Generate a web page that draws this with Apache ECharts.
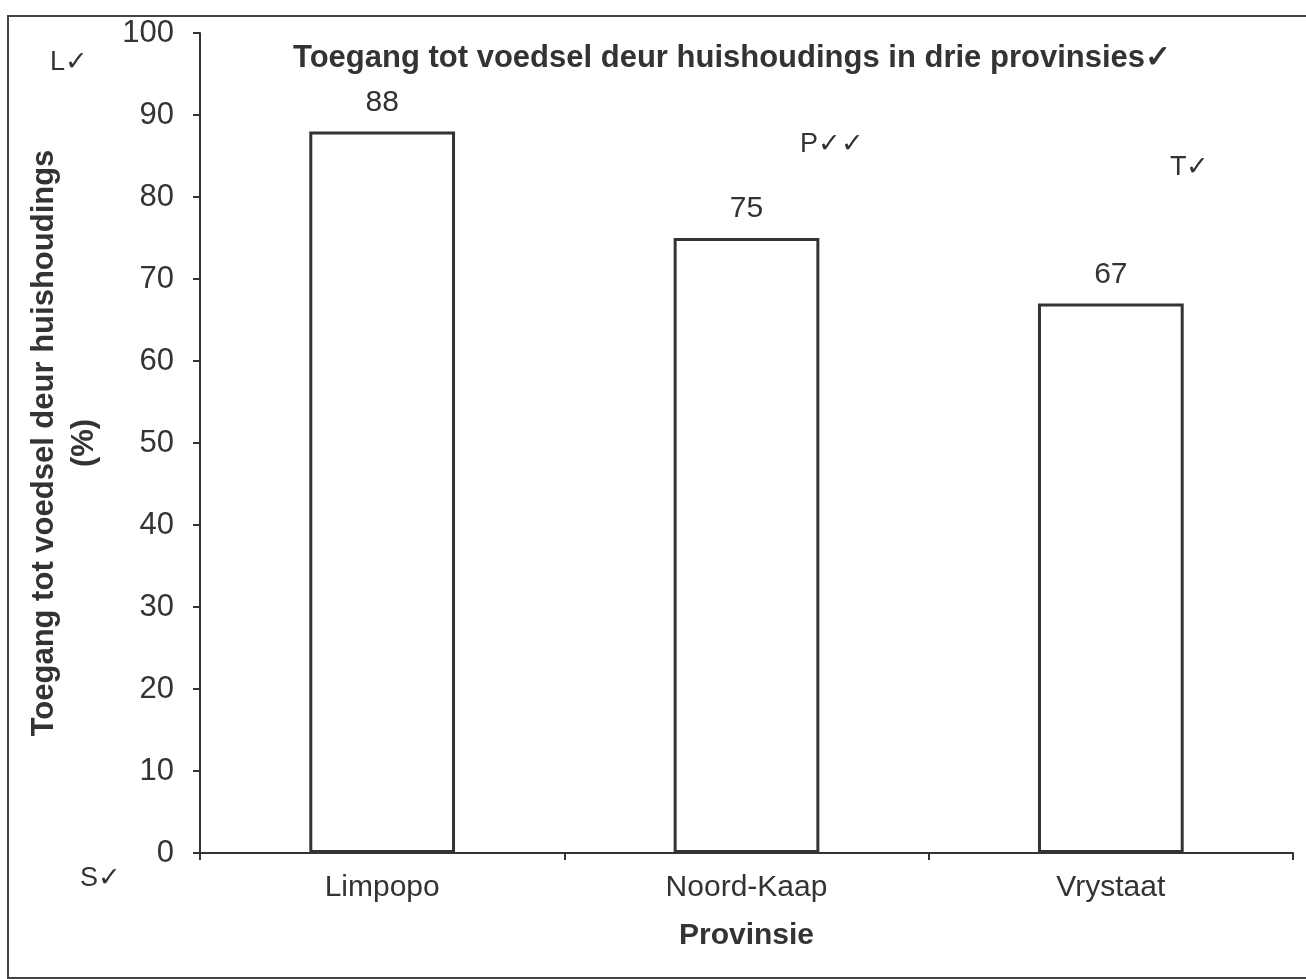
<!DOCTYPE html>
<html>
<head>
<meta charset="utf-8">
<script src="https://cdn.jsdelivr.net/npm/echarts@6/dist/echarts.min.js"></script>
<style>
  html, body { margin: 0; padding: 0; background: #fff; }
  #main { width: 1306px; height: 979px; }
</style>
</head>
<body>
<div id="main"></div>
<script>
// data
var provinces = ["Limpopo", "Noord-Kaap", "Vrystaat"];
var access = [88, 75, 67];
var yTicks = [0, 10, 20, 30, 40, 50, 60, 70, 80, 90, 100];

var chart = echarts.init(document.getElementById('main'));
var ink = "#333";
var font = "'Liberation Sans', Arial, sans-serif";

var option = {
  backgroundColor: "#fff",
  animation: false,
  title: {
    text: "Toegang tot voedsel deur huishoudings in drie provinsies\u2713",
    left: 288,
    top: 38,
    textStyle: { fontFamily: font, fontSize: 31, fontWeight: "bold", color: ink }
  },
  grid: { left: 200, right: 13, top: 33, bottom: 126 },
  xAxis: {
    type: "category",
    data: provinces,
    name: "Provinsie",
    nameLocation: "middle",
    nameGap: 68,
    nameTextStyle: { fontFamily: font, fontSize: 30, fontWeight: "bold", color: ink },
    axisLine: { lineStyle: { color: ink, width: 2 } },
    axisTick: { show: true, length: 7, lineStyle: { color: ink, width: 2 } },
    axisLabel: { fontFamily: font, fontSize: 30, color: ink, margin: 20 }
  },
  yAxis: {
    type: "value",
    min: yTicks[0],
    max: yTicks[yTicks.length - 1],
    interval: 10,
    name: "Toegang tot voedsel deur huishoudings\n(%)",
    nameLocation: "middle",
    nameGap: 96,
    nameTextStyle: { fontFamily: font, fontSize: 31, fontWeight: "bold", color: ink, lineHeight: 40 },
    axisLine: { show: true, lineStyle: { color: ink, width: 2 } },
    axisTick: { show: true, length: 7, lineStyle: { color: ink, width: 2 } },
    splitLine: { show: false },
    axisLabel: { fontFamily: font, fontSize: 31, color: ink, margin: 26 }
  },
  series: [{
    type: "bar",
    data: access,
    barWidth: "40%",
    itemStyle: { color: "#fff", borderColor: ink, borderWidth: 3 },
    label: {
      show: true,
      position: "top",
      distance: 14,
      fontFamily: font,
      fontSize: 30,
      color: ink
    }
  }],
  graphic: [
    { type: "rect", shape: { x: 8, y: 16, width: 1310, height: 962 },
      style: { fill: null, stroke: "#444", lineWidth: 2 }, silent: true },
    { type: "text", left: 50, top: 49,
      style: { text: "L\u2713", font: "27px " + font, fill: ink } },
    { type: "text", left: 80, top: 865,
      style: { text: "S\u2713", font: "27px " + font, fill: ink } },
    { type: "text", left: 800, top: 131,
      style: { text: "P\u2713\u2713", font: "27px " + font, fill: ink } },
    { type: "text", left: 1170, top: 154,
      style: { text: "T\u2713", font: "27px " + font, fill: ink } }
  ]
};

chart.setOption(option);
</script>
</body>
</html>
